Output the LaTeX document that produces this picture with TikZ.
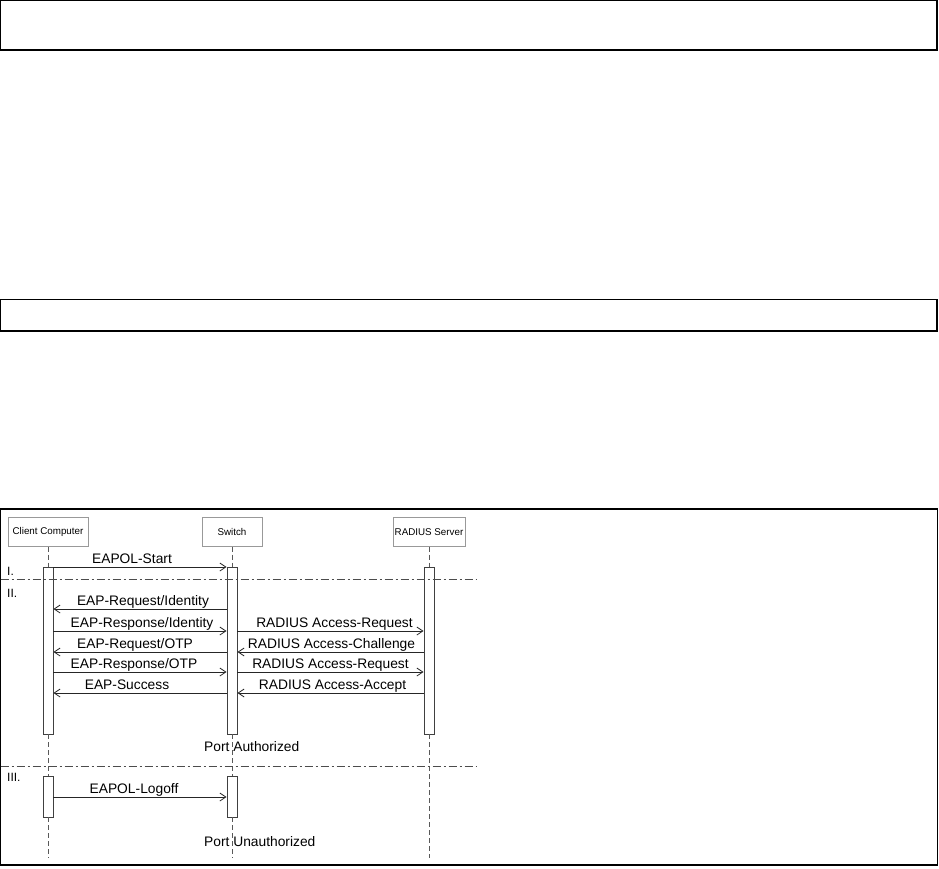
\documentclass[tikz,border=0pt]{standalone}
\usepackage{fontspec}
\setmainfont{Liberation Sans}
\usetikzlibrary{arrows.meta,positioning}

\tikzset{
  frame/.style={draw=black, line width=1.3pt},
  head/.style={draw=gray!80, fill=white, minimum height=29pt, inner sep=1pt,
    font=\fontsize{9.8}{11}\selectfont},
  act/.style={draw=black!75, fill=white, line width=0.9pt, minimum width=10pt, inner sep=0pt},
  life/.style={draw=black!65, line width=0.8pt, dash pattern=on 5pt off 3pt},
  msg/.style={draw=black!85, line width=0.8pt, -{Straight Barb[length=6pt,width=8pt]}},
  lbl/.style={above, inner sep=1pt, text height=10pt, text depth=2.5pt,
    font=\fontsize{13.8}{15}\selectfont},
  phase/.style={draw=black!70, line width=0.8pt, dash pattern=on 8pt off 3pt on 2pt off 3pt},
  phasetxt/.style={anchor=west, inner sep=0pt, font=\fontsize{12}{14}\selectfont},
  port/.style={anchor=west, inner sep=0pt, font=\fontsize{13.8}{15}\selectfont},
}

\begin{document}
\begin{tikzpicture}[x=1pt, y=-1pt]
  \useasboundingbox (0,0) rectangle (939,868);

  % empty frames
  \draw[frame] (0.7,0.7) rectangle (937,50);
  \draw[frame] (0.7,299.5) rectangle (937,331);
  \draw[frame] (0.7,509) rectangle (937.5,865);

  % heads
  \node[head, minimum width=80pt] (client) at (48,532) {Client Computer};
  \node[head, minimum width=60pt] (switch) at (232,532) {Switch};
  \node[head, minimum width=72pt] (radius) at (429,532) {RADIUS Server};

  % activations
  \node[act, minimum height=167pt] (c1) at (48,650.5) {};
  \node[act, minimum height=167pt] (s1) at (232,650.5) {};
  \node[act, minimum height=167pt] (r1) at (429,650.5) {};
  \node[act, minimum height=41pt] (c2) at (48,796.5) {};
  \node[act, minimum height=41pt] (s2) at (232,796.5) {};

  % lifelines
  \draw[life] (client.south) -- (c1.north) (c1.south) -- (c2.north) (c2.south) -- (client |- 0,858);
  \draw[life] (switch.south) -- (s1.north) (s1.south) -- (s2.north) (s2.south) -- (switch |- 0,858);
  \draw[life] (radius.south) -- (r1.north) (r1.south) -- (radius |- 0,858);

  % phases
  \draw[phase] (0.7,579) -- (477,579);
  \draw[phase] (0.7,766) -- (477,766);
  \node[phasetxt] (ph1) at (7,571) {I.};
  \node[phasetxt] (ph2) at (7,593) {II.};
  \node[phasetxt] (ph3) at (7,777) {III.};

  % client <-> switch
  \draw[msg] (c1.east |- 0,567) -- node[lbl, xshift=-8pt] {EAPOL-Start} (s1.west |- 0,567);
  \draw[msg] (s1.west |- 0,609) -- node[lbl, xshift=3pt] {EAP-Request/Identity} (c1.east |- 0,609);
  \draw[msg] (c1.east |- 0,631) -- node[lbl, xshift=2pt] {EAP-Response/Identity} (s1.west |- 0,631);
  \draw[msg] (s1.west |- 0,652) -- node[lbl, xshift=-5pt] {EAP-Request/OTP} (c1.east |- 0,652);
  \draw[msg] (c1.east |- 0,672) -- node[lbl, xshift=-6pt] {EAP-Response/OTP} (s1.west |- 0,672);
  \draw[msg] (s1.west |- 0,693) -- node[lbl, xshift=-13pt] {EAP-Success} (c1.east |- 0,693);

  % switch <-> radius
  \draw[msg] (s1.east |- 0,631) -- node[lbl, xshift=4pt] {RADIUS Access-Request} (r1.west |- 0,631);
  \draw[msg] (r1.west |- 0,652) -- node[lbl, xshift=1pt] {RADIUS Access-Challenge} (s1.east |- 0,652);
  \draw[msg] (s1.east |- 0,672) -- node[lbl] {RADIUS Access-Request} (r1.west |- 0,672);
  \draw[msg] (r1.west |- 0,693) -- node[lbl, xshift=2pt] {RADIUS Access-Accept} (s1.east |- 0,693);

  \node[port] (auth) at (204,747) {Port Authorized};

  \draw[msg] (c2.east |- 0,797) -- node[lbl, xshift=-6pt] {EAPOL-Logoff} (s2.west |- 0,797);

  \node[port] (unauth) at (204,842) {Port Unauthorized};
\end{tikzpicture}
\end{document}
